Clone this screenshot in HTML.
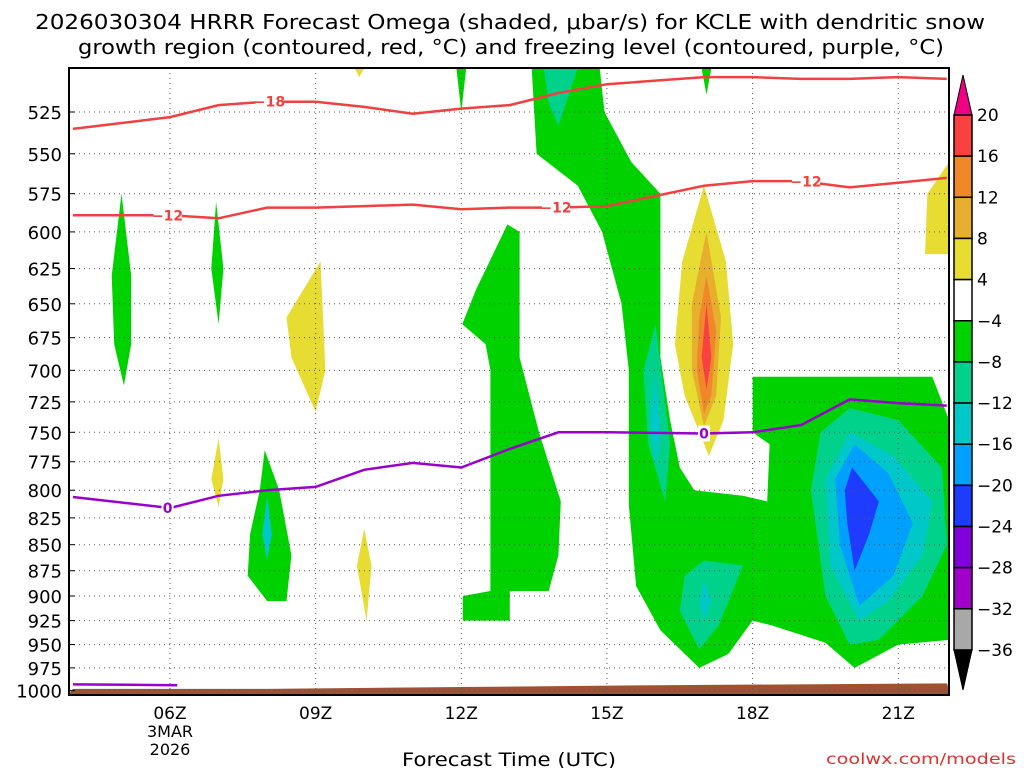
<!DOCTYPE html>
<html><head><meta charset="utf-8"><style>
body{margin:0;background:#fff;width:1024px;height:768px;overflow:hidden}
svg text{font-family:"DejaVu Sans","Liberation Sans",sans-serif}
</style></head><body>
<svg id="c" width="1024" height="768" xmlns="http://www.w3.org/2000/svg">
<text x="35" y="29" font-size="20" textLength="950" lengthAdjust="spacingAndGlyphs" fill="#000">2026030304 HRRR Forecast Omega (shaded, μbar/s) for KCLE with dendritic snow</text>
<text x="78" y="54" font-size="20" textLength="866" lengthAdjust="spacingAndGlyphs" fill="#000">growth region (contoured, red, °C) and freezing level (contoured, purple, °C)</text>
<text x="402" y="766" font-size="19" textLength="214" lengthAdjust="spacingAndGlyphs">Forecast Time (UTC)</text>
<text x="826" y="764" font-size="15" textLength="190" lengthAdjust="spacingAndGlyphs" fill="#e03030">coolwx.com/models</text>
<g id="fills"></g>
<g id="grid"></g>
<g id="lines"></g>
<g id="axes"></g>
<g id="cbar"></g>
</svg>
<script>
const pTicks=[525,550,575,600,625,650,675,700,725,750,775,800,825,850,875,900,925,950,975,1000];
const hTicks=[6,9,12,15,18,21];
const hTickLabels=["06Z","09Z","12Z","15Z","18Z","21Z"];
const cbLevels=["20","16","12","8","4","−4","−8","−12","−16","−20","−24","−28","−32","−36"];
const cbColors=["#fa4040","#f0882a","#e6af2d","#e6dc32","#ffffff","#00d200","#00d28c","#00c8c8","#00a0ff","#1e3cff","#8200dc","#a000c8","#a8a8a8"];
const COL={y:"#e6dc32",o1:"#e6af2d",o2:"#f0882a",r:"#fa4040",g:"#00d200",t:"#00d28c",c:"#00c8c8",lb:"#00a0ff",b:"#1e3cff"};
const regions=[
["g",[[13.45,500],[14.85,500],[14.95,525],[15.5,555],[16.1,575],[16.1,640],[16.1,690],[16.3,740],[16.5,780],[16.8,800],[17.8,805],[18.3,810],[18.35,760],[18.0,750],[18.0,705],[21.7,705],[22.05,740],[22.05,945],[21.0,950],[20.1,975],[19.5,948],[18.4,930],[18.0,925],[17.5,960],[16.9,975],[16.1,935],[15.6,890],[15.45,813],[15.45,700],[15.3,650],[14.9,600],[14.4,570],[13.55,550]]],
["g",[[12.95,595],[13.2,600],[13.2,690],[13.6,750],[14.05,810],[14.0,860],[13.8,895],[13.0,895],[13.0,925],[12.03,925],[12.03,900],[12.6,895],[12.6,700],[12.5,680],[12.02,665],[12.3,640]]],
["g",[[5.0,575],[5.2,630],[5.2,680],[5.05,712],[4.85,680],[4.8,630]]],
["g",[[6.95,580],[7.1,625],[7.0,665],[6.85,625]]],
["g",[[7.95,765],[8.25,800],[8.5,860],[8.4,905],[8.0,905],[7.6,880],[7.65,840],[7.85,800]]],
["c",[[8.0,805],[8.1,840],[8.0,865],[7.9,840]]],
["g",[[11.9,500],[12.1,500],[12.0,525]]],
["g",[[16.95,500],[17.15,500],[17.05,515]]],
["y",[[9.1,620],[9.2,700],[9.0,733],[8.5,690],[8.4,660]]],
["y",[[7.0,755],[7.1,790],[7.0,815],[6.85,790]]],
["y",[[10.0,835],[10.15,870],[10.05,925],[9.85,870]]],
["y",[[9.8,500],[10.0,500],[9.9,505]]],
["y",[[17.0,570],[17.45,620],[17.6,680],[17.4,740],[17.1,770],[16.6,720],[16.4,680],[16.55,620]]],
["o1",[[17.05,600],[17.35,660],[17.25,720],[17.0,745],[16.75,700],[16.75,650]]],
["o2",[[17.05,630],[17.25,670],[17.15,720],[17.0,735],[16.85,700],[16.9,660]]],
["r",[[17.05,650],[17.15,690],[17.05,715],[16.95,690]]],
["y",[[22.05,555],[22.05,615],[21.55,615],[21.6,575]]],
["t",[[13.7,500],[14.4,500],[14.0,533],[13.8,520]]],
["t",[[16.0,665],[16.3,760],[16.2,810],[15.85,760],[15.75,700]]],
["c",[[16.0,700],[16.1,750],[16.0,780],[15.9,740]]],
["t",[[17.0,865],[17.8,870],[17.3,930],[16.9,955],[16.5,915],[16.6,880]]],
["c",[[17.0,885],[17.15,905],[17.0,925],[16.9,905]]],
["t",[[20.0,730],[21.0,740],[21.9,780],[22.0,850],[21.5,900],[20.6,945],[20.0,950],[19.5,900],[19.2,800],[19.4,750]]],
["c",[[20.0,750],[20.9,770],[21.7,810],[21.5,860],[20.8,905],[20.2,925],[19.6,870],[19.5,790]]],
["lb",[[20.1,760],[20.8,785],[21.3,830],[20.9,880],[20.2,910],[19.8,850],[19.7,790]]],
["b",[[20.05,780],[20.6,810],[20.4,840],[20.1,875],[19.95,830],[19.9,800]]]
];
const lineHours=[4,6,7,8,9,10,11,12,13,14,15,17,18,19,20,21,22];
const frzP=[806,816,805,800,797,782,776,780,764,750,750,751,750,744,723,726,728];
const m12P=[589,589,591,584,584,583,582,585,584,584,583,570,567,567,571,568,565];
const m18P=[535,528,521,519,519,522,526,523,521,514,509,505,505,506,506,505,506];
const surfHours=[4,8,12,16,22];
const surfP=[998,998,996,994,992];
const X0=69,X1=949,Y0=68,Y1=695;
const x=h=>170+(h-6)*48.55;
const y=p=>112+898*Math.log(p/525);
const NS="http://www.w3.org/2000/svg";
function mk(par,tag,at){const e=document.createElementNS(NS,tag);for(const k in at)e.setAttribute(k,at[k]);document.getElementById(par).appendChild(e);return e;}
const fills=document.getElementById('fills');
let cp=mk('fills','clipPath',{id:'clip'});
let cr=document.createElementNS(NS,'rect');cr.setAttribute('x',X0);cr.setAttribute('y',Y0);cr.setAttribute('width',X1-X0);cr.setAttribute('height',Y1-Y0);cp.appendChild(cr);
fills.setAttribute('clip-path','url(#clip)');
regions.forEach((r,i)=>{
 const e=mk('fills','polygon',{points:r[1].map(q=>x(q[0]).toFixed(1)+','+y(q[1]).toFixed(1)).join(' '),fill:COL[r[0]]});
 
 
});
let sp=surfHours.map((h,i)=>x(h)+','+y(surfP[i])).join(' ');
const ground=mk('fills','polygon',{points:sp+' '+x(22.1)+','+Y1+' '+x(3.9)+','+Y1,fill:'#a0522d'});


pTicks.forEach(p=>{
 const l=mk('grid','line',{x1:X0,x2:X1,y1:y(p),y2:y(p),stroke:'#555','stroke-dasharray':'1 4','stroke-width':1});
 
 
 const t=mk('axes','text',{x:62,y:y(p)+7,'font-size':18,'text-anchor':'end'});t.textContent=p;
 
 
 mk('axes','line',{x1:X0,x2:X0+6,y1:y(p),y2:y(p),stroke:'#000'});
});
hTicks.forEach((h,i)=>{
 const l=mk('grid','line',{x1:x(h),x2:x(h),y1:Y0,y2:Y1,stroke:'#555','stroke-dasharray':'1 4'});
 
 
 const t=mk('axes','text',{x:x(h),y:719,'font-size':17,'text-anchor':'middle'});t.textContent=hTickLabels[i];
 
 
});
[["3MAR",737],["2026",755]].forEach(a=>{const t=mk('axes','text',{x:x(6),y:a[1],'font-size':16,'text-anchor':'middle'});t.textContent=a[0];
 
 });
function cline(arr,col,name,labels){
 const pts=lineHours.map((h,i)=>x(h).toFixed(1)+','+y(arr[i]).toFixed(1)).join(' ');
 const e=mk('lines','polyline',{points:pts,fill:'none',stroke:col,'stroke-width':2.5});
 
 
 labels.forEach(L=>{
  let i=lineHours.findIndex(h=>h>=L[0]);let p=arr[i];
  if(i>0){const h0=lineHours[i-1],h1=lineHours[i];p=arr[i-1]+(arr[i]-arr[i-1])*(L[0]-h0)/(h1-h0);}
  const w=L[1].length*8+4;
  mk('lines','rect',{x:x(L[0])-w/2,y:y(p)-8,width:w,height:16,fill:'#fff'});
  const t=mk('lines','text',{x:x(L[0]),y:y(p)+5,'font-size':14,'font-weight':'bold','text-anchor':'middle',fill:col});t.textContent=L[1];
  
  
 });
}
cline(m18P,'#f04040','minus18-contour',[[8.05,"−18"]]);
cline(m12P,'#f04040','minus12-contour',[[5.95,"−12"],[13.95,"−12"],[19.1,"−12"]]);
cline(frzP,'#9900cc','freezing-level',[[5.95,"0"],[17.0,"0"]]);
const bl=mk('lines','polyline',{points:x(4)+','+y(993)+' '+x(6.15)+','+y(994),fill:'none',stroke:'#9900cc','stroke-width':2.5});


const fr=mk('axes','rect',{x:X0,y:Y0,width:X1-X0,height:Y1-Y0,fill:'none',stroke:'#000','stroke-width':2});


const CX=954,CW=18,CT=115,CS=41.15;
mk('cbar','polygon',{points:`${CX},${CT} ${CX+CW},${CT} ${CX+CW/2},75`,fill:'#f00082',stroke:'#000'});
cbColors.forEach((c,i)=>{
 const r=mk('cbar','rect',{x:CX,y:CT+i*CS,width:CW,height:CS,fill:c,stroke:'#000','stroke-width':1.5});
 
 
});
const cb=CT+cbColors.length*CS;
mk('cbar','polygon',{points:`${CX},${cb} ${CX+CW},${cb} ${CX+CW/2},690`,fill:'#000',stroke:'#000'});
cbLevels.forEach((s,i)=>{const t=mk('cbar','text',{x:977,y:CT+i*CS+6,'font-size':17});t.textContent=s;
 
 });
</script>
</body></html>
